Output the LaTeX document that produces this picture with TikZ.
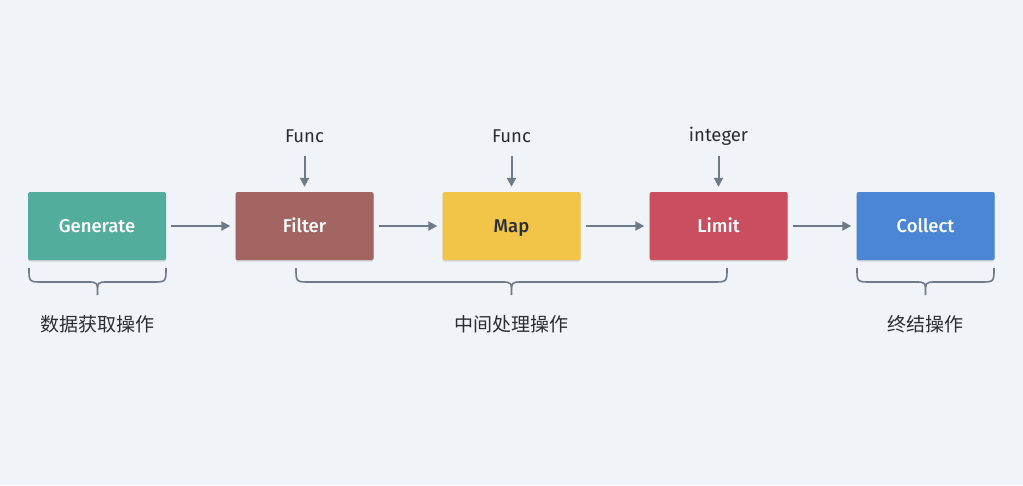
\documentclass[tikz,border=0pt]{standalone}
\usepackage{fontspec}
\setmainfont{Fira Sans}
\newfontfamily\medfont{Fira Sans Medium}
\newfontfamily\cjk{Noto Sans CJK SC}
\usetikzlibrary{arrows.meta,shadows}
\definecolor{bg}{HTML}{F0F3F7}
\definecolor{linec}{HTML}{6E7A87}
\definecolor{txt}{HTML}{2A2E33}
\definecolor{cgen}{HTML}{52AD9C}
\definecolor{cfil}{HTML}{A26562}
\definecolor{cmap}{HTML}{F2C548}
\definecolor{clim}{HTML}{C94F5E}
\definecolor{ccol}{HTML}{4A86D4}
\tikzset{
  stagebox/.style={minimum width=138pt, minimum height=68pt, inner sep=0pt,
    rounded corners=1.5pt, text=white, text height=13pt, text depth=0pt,
    font=\medfont\fontsize{18.5}{22}\selectfont,
    drop shadow={shadow xshift=0pt, shadow yshift=-1.5pt, opacity=0.12, fill=black}},
  flow/.style={draw=linec, line width=2pt, -{Triangle[length=9pt,width=9pt]}},
  inlabel/.style={text=txt, font=\fontsize{18.5}{22}\selectfont, inner sep=0pt},
  grouplabel/.style={text=txt, font=\cjk\fontsize{19}{22}\selectfont, inner sep=0pt},
  bracec/.style={draw=linec, line width=1.6pt},
}
\begin{document}
\begin{tikzpicture}[x=1pt,y=-1pt]
\fill[bg] (0,0) rectangle (1023,485);
\useasboundingbox (0,0) rectangle (1023,485);

\node[stagebox, fill=cgen] (gen) at (97,226) {Generate};
\node[stagebox, fill=cfil] (fil) at (304.5,226) {Filter};
\node[stagebox, fill=cmap] (map) at (511.5,226) {\textcolor{txt}{Map}};
\node[stagebox, fill=clim] (lim) at (718.5,226) {Limit};
\node[stagebox, fill=ccol] (col) at (925.5,226) {Collect};

\draw[flow] ([xshift=5pt]gen.east) -- ([xshift=-5pt]fil.west);
\draw[flow] ([xshift=5pt]fil.east) -- ([xshift=-5pt]map.west);
\draw[flow] ([xshift=5pt]map.east) -- ([xshift=-5pt]lim.west);
\draw[flow] ([xshift=5pt]lim.east) -- ([xshift=-5pt]col.west);

\node[inlabel] (f1) at (304.5,136) {Func};
\node[inlabel] (f2) at (511.5,136) {Func};
\node[inlabel] (f3) at (718.5,136) {integer};
\draw[flow] (304.5,156) coordinate (t1) -- ([yshift=5pt]fil.north);
\draw[flow] (511.5,156) coordinate (t2) -- ([yshift=5pt]map.north);
\draw[flow] (718.5,156) coordinate (t3) -- ([yshift=5pt]lim.north);

% braces
\def\bracepath#1#2{%
  \draw[bracec] (#1,268) .. controls (#1,282) .. ({#1+14},282) -- ({(#1+#2)/2-10},282)
    .. controls ({(#1+#2)/2},282) .. ({(#1+#2)/2},295)
    .. controls ({(#1+#2)/2},282) .. ({(#1+#2)/2+10},282) -- ({#2-14},282)
    .. controls (#2,282) .. (#2,268);}
\bracepath{29}{166}
\bracepath{296}{727}
\bracepath{857}{994}

\node[grouplabel] (g1) at (97,324) {数据获取操作};
\node[grouplabel] (g2) at (511.5,324) {中间处理操作};
\node[grouplabel] (g3) at (925.5,324) {终结操作};
\end{tikzpicture}
\end{document}
